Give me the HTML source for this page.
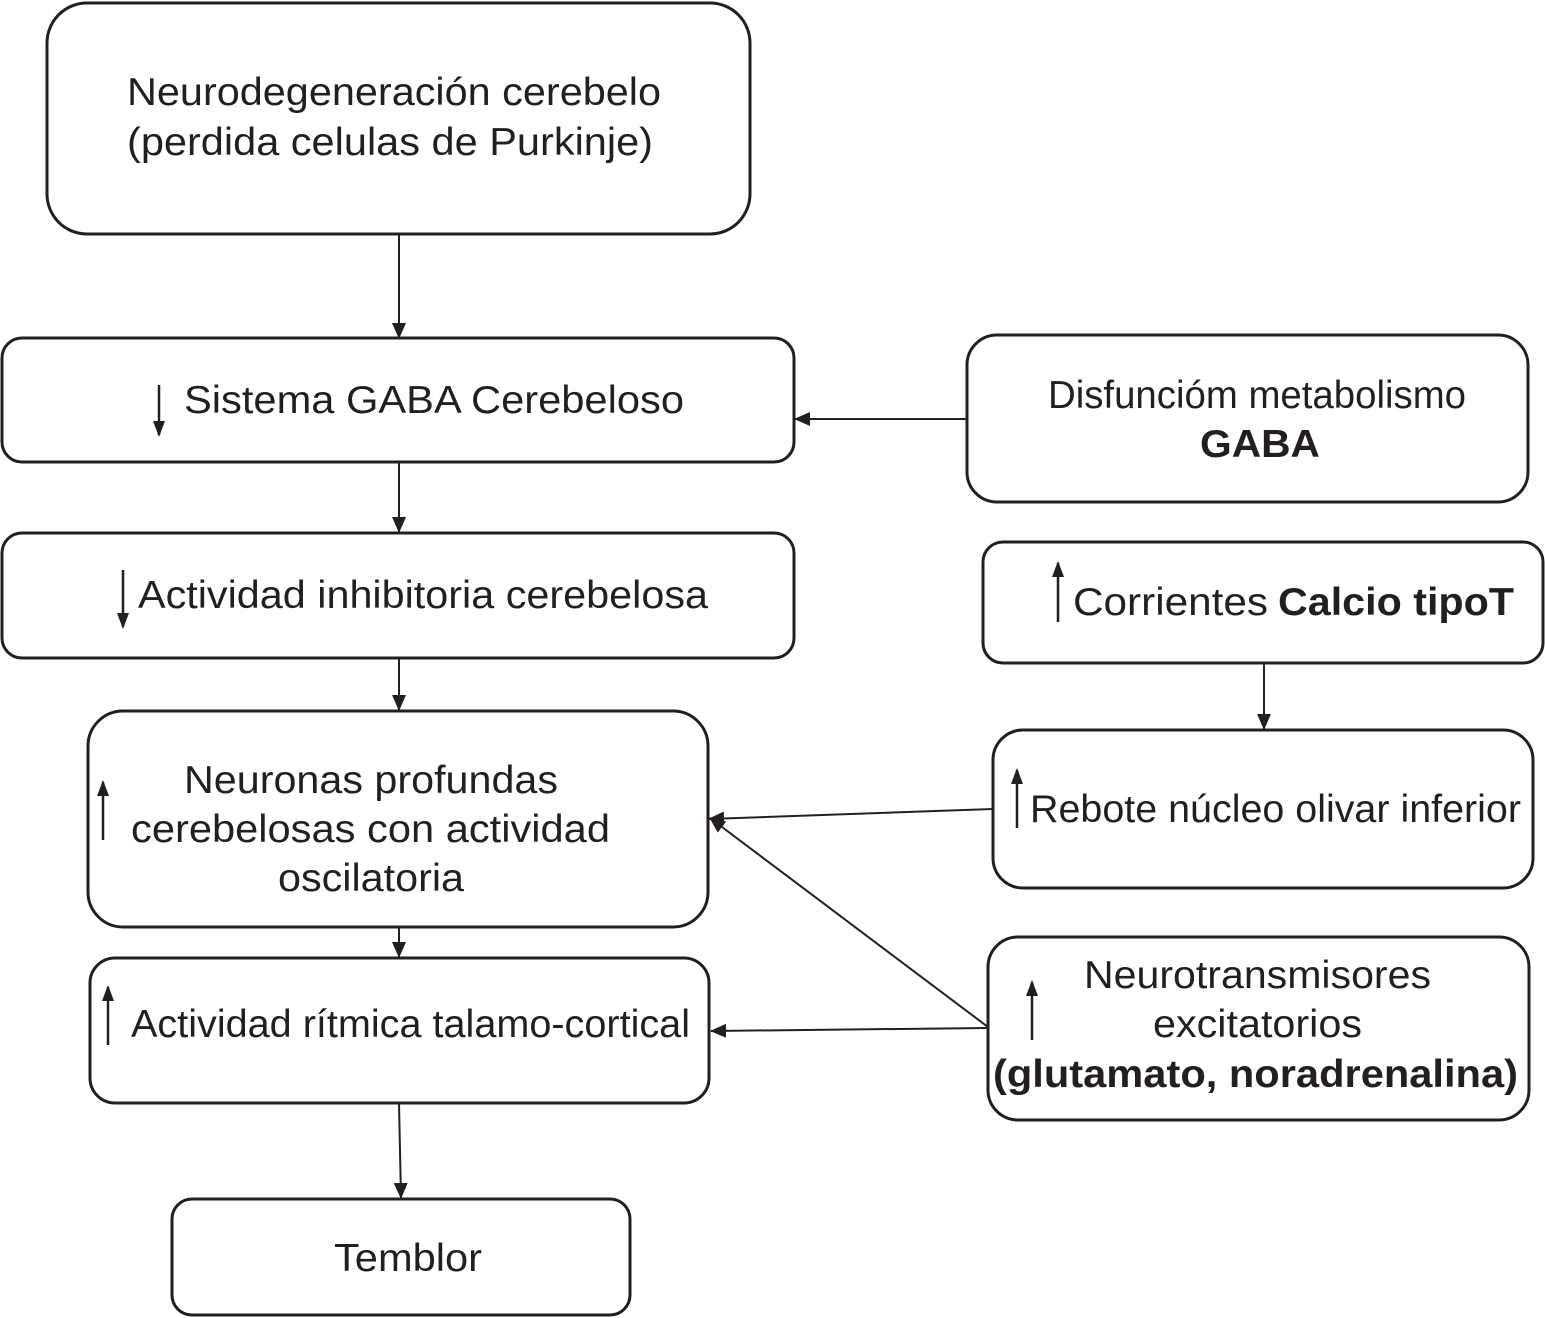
<!DOCTYPE html>
<html><head><meta charset="utf-8"><style>html,body{margin:0;padding:0;background:#fff}svg{display:block}</style></head>
<body>
<svg width="1545" height="1318" viewBox="0 0 1545 1318" xmlns="http://www.w3.org/2000/svg" font-family="Liberation Sans, Arial, sans-serif" font-size="39" fill="#231f20">
<defs>
<marker id="a" markerWidth="16" markerHeight="12" refX="14" refY="6" orient="auto" markerUnits="userSpaceOnUse"><path d="M0,0 L16,6 L0,12z" fill="#231f20"/></marker>
<marker id="b" markerWidth="16" markerHeight="14" refX="15" refY="7" orient="auto" markerUnits="userSpaceOnUse"><path d="M0,0 L16,7 L0,14z" fill="#231f20"/></marker>
</defs>
<g fill="none" stroke="#231f20" stroke-width="3">
<rect x="47" y="3" width="703" height="231" rx="40"/>
<rect x="2" y="338" width="792" height="124" rx="20"/>
<rect x="2" y="533" width="792" height="125" rx="20"/>
<rect x="88" y="711" width="620" height="216" rx="35"/>
<rect x="90" y="958" width="619" height="145" rx="25"/>
<rect x="172" y="1199" width="458" height="116" rx="20"/>
<rect x="967" y="335" width="561" height="167" rx="30"/>
<rect x="983" y="542" width="560" height="121" rx="20"/>
<rect x="993" y="730" width="540" height="158" rx="30"/>
<rect x="988" y="937" width="541" height="183" rx="30"/>
</g>
<g stroke="#231f20" stroke-width="2" fill="none" marker-end="url(#b)">
<line x1="399" y1="234" x2="399" y2="338"/>
<line x1="399" y1="462" x2="399" y2="532"/>
<line x1="399" y1="658" x2="399" y2="710"/>
<line x1="399" y1="927" x2="399" y2="957"/>
<line x1="399" y1="1103" x2="401" y2="1198"/>
<line x1="1264" y1="663" x2="1264" y2="729"/>
<line x1="967" y1="419" x2="795" y2="419"/>
<line x1="993" y1="809" x2="709" y2="819"/>
<line x1="988" y1="1027" x2="710" y2="818"/>
<line x1="988" y1="1028" x2="711" y2="1031"/>
</g>
<g stroke="#231f20" stroke-width="2.5" fill="none" marker-end="url(#a)">
<line x1="159" y1="385" x2="159" y2="435"/>
<line x1="123" y1="570" x2="123" y2="627"/>
<line x1="103" y1="840" x2="103" y2="782"/>
<line x1="108" y1="1045" x2="108" y2="987"/>
<line x1="1058" y1="622" x2="1058" y2="563"/>
<line x1="1017" y1="828" x2="1017" y2="770"/>
<line x1="1032" y1="1040" x2="1032" y2="982"/>
</g>
<text x="127" y="105" textLength="534" lengthAdjust="spacingAndGlyphs">Neurodegeneración cerebelo</text>
<text x="127" y="155" textLength="526" lengthAdjust="spacingAndGlyphs">(perdida celulas de Purkinje)</text>
<text x="184" y="413" textLength="500" lengthAdjust="spacingAndGlyphs">Sistema GABA Cerebeloso</text>
<text x="138" y="608" textLength="570" lengthAdjust="spacingAndGlyphs">Actividad inhibitoria cerebelosa</text>
<text x="184" y="793" textLength="374" lengthAdjust="spacingAndGlyphs">Neuronas profundas</text>
<text x="131" y="842" textLength="479" lengthAdjust="spacingAndGlyphs">cerebelosas con actividad</text>
<text x="278" y="891" textLength="186" lengthAdjust="spacingAndGlyphs">oscilatoria</text>
<text x="131" y="1037" textLength="559" lengthAdjust="spacingAndGlyphs">Actividad rítmica talamo-cortical</text>
<text x="334" y="1271" textLength="148" lengthAdjust="spacingAndGlyphs">Temblor</text>
<text x="1048" y="408" textLength="418" lengthAdjust="spacingAndGlyphs">Disfuncióm metabolismo</text>
<text x="1200" y="457" textLength="120" lengthAdjust="spacingAndGlyphs" font-weight="bold">GABA</text>
<text x="1073" y="615" textLength="195" lengthAdjust="spacingAndGlyphs">Corrientes</text>
<text x="1278" y="615" textLength="236" lengthAdjust="spacingAndGlyphs" font-weight="bold">Calcio tipoT</text>
<text x="1030" y="822" textLength="491" lengthAdjust="spacingAndGlyphs">Rebote núcleo olivar inferior</text>
<text x="1084" y="988" textLength="347" lengthAdjust="spacingAndGlyphs">Neurotransmisores</text>
<text x="1153" y="1037" textLength="209" lengthAdjust="spacingAndGlyphs">excitatorios</text>
<text x="993" y="1087" textLength="525" lengthAdjust="spacingAndGlyphs" font-weight="bold">(glutamato, noradrenalina)</text>
</svg>
</body></html>
